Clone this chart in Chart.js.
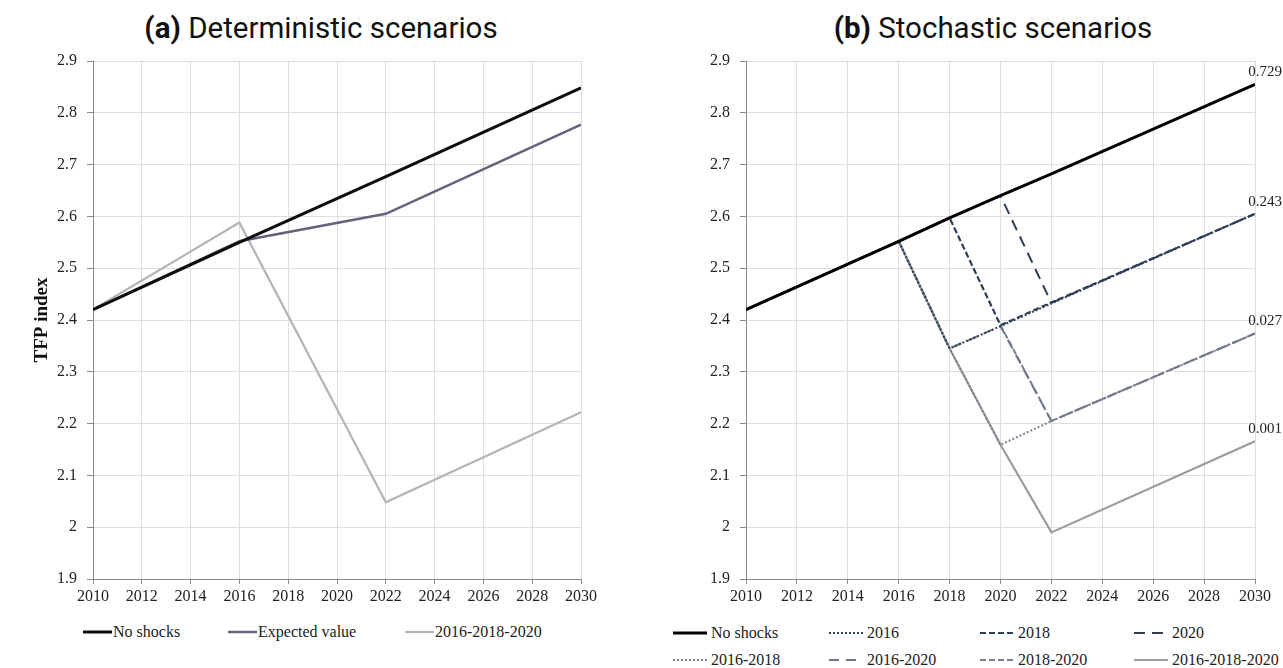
<!DOCTYPE html>
<html>
<head>
<meta charset="utf-8">
<script src="https://cdn.jsdelivr.net/npm/chart.js@4.4.1/dist/chart.umd.min.js"></script>
<style>
    body { margin: 0; width: 1283px; height: 668px; background: #fff; position: relative; overflow: hidden; }
    canvas { position: absolute; top: 0; }
    .titulo { position: absolute; top: 11px; line-height: 34px; font-family: Roboto, sans-serif; font-size: 29.5px; color: #111; white-space: nowrap; transform: translateX(-50%); }
    .titulo b { font-weight: 700; }
    .leg { position: absolute; display: flex; align-items: center; font-family: "Liberation Serif", serif; font-size: 16px; color: #222; white-space: nowrap; transform: translateY(-50%); }
    .leg svg { display: block; }
</style>
</head>
<body>
<div class="titulo" style="left:321px"><b>(a)</b> Deterministic scenarios</div>
<div class="titulo" style="left:993px"><b>(b)</b> Stochastic scenarios</div>
<canvas id="graficoA" width="640" height="612" style="left:0"></canvas>
<canvas id="graficoB" width="643" height="612" style="left:640px"></canvas>
<div id="legendaA"></div>
<div id="legendaB"></div>
<script>
// (a) cenários determinísticos
const anosA = [2010, 2016, 2022, 2030];
const semChoquesA = [2.42, 2.55, 2.677, 2.848];
const valorEsperadoA = [2.42, 2.552, 2.605, 2.777];
const choques161820A = [2.42, 2.588, 2.048, 2.222];

// (b) cenários estocásticos
const anosB = [2010, 2016, 2018, 2020, 2022, 2030];
const semChoquesB = [2.42, 2.552, 2.597, 2.640, 2.682, 2.855];
const choque2016 = [2.42, 2.552, 2.345, 2.388, 2.432, 2.605];
const choque2018 = [2.42, 2.552, 2.597, 2.390, 2.434, 2.605];
const choque2020 = [2.42, 2.552, 2.597, 2.640, 2.433, 2.605];
const choque2016_2018 = [2.42, 2.552, 2.345, 2.159, 2.205, 2.374];
const choque2016_2020 = [2.42, 2.552, 2.345, 2.388, 2.205, 2.374];
const choque2018_2020 = [2.42, 2.552, 2.597, 2.390, 2.205, 2.374];
const choque2016_2018_2020 = [2.42, 2.552, 2.345, 2.159, 1.990, 2.166];

// probabilidades escritas no fim das linhas
const probabilidades = ['0.729', '0.243', '0.027', '0.001'];
const seriesComProb = [0, 1, 4, 7];

const eixoX = { min: 2010, max: 2030, passo: 2 };
const eixoY = { min: 1.9, max: 2.9, passo: 0.1 };

const seriesA = [
    { label: 'No shocks', dados: semChoquesA, cor: '#0d0d0d', largura: 3, traco: [] },
    { label: 'Expected value', dados: valorEsperadoA, cor: '#63637c', largura: 2.5, traco: [] },
    { label: '2016-2018-2020', dados: choques161820A, cor: '#b4b4ba', largura: 2.2, traco: [] }
];

const seriesB = [
    { label: 'No shocks', dados: semChoquesB, cor: '#000000', largura: 3, traco: [] },
    { label: '2016', dados: choque2016, cor: '#2f3d57', largura: 2, traco: [2, 2] },
    { label: '2018', dados: choque2018, cor: '#2f3d57', largura: 2, traco: [6, 3] },
    { label: '2020', dados: choque2020, cor: '#2f3d57', largura: 2, traco: [11, 7] },
    { label: '2016-2018', dados: choque2016_2018, cor: '#7b8190', largura: 2, traco: [2, 2] },
    { label: '2016-2020', dados: choque2016_2020, cor: '#6f7686', largura: 2, traco: [10, 7] },
    { label: '2018-2020', dados: choque2018_2020, cor: '#7b8190', largura: 2, traco: [6, 3] },
    { label: '2016-2018-2020', dados: choque2016_2018_2020, cor: '#9c9c9c', largura: 2.2, traco: [] }
];

const fonteEixo = { family: 'Liberation Serif', size: 16 };

const rotulosFinais = {
    id: 'rotulosFinais',
    afterDatasetsDraw(chart, args, opts) {
        if (!opts.textos) return;
        const ctx = chart.ctx;
        ctx.save();
        ctx.font = '15px "Liberation Serif"';
        ctx.fillStyle = '#222';
        ctx.textAlign = 'center';
        ctx.textBaseline = 'middle';
        opts.indices.forEach((idx, i) => {
            const pontos = chart.getDatasetMeta(idx).data;
            const p = pontos[pontos.length - 1];
            ctx.fillText(opts.textos[i], p.x + 10, p.y - 12);
        });
        ctx.restore();
    }
};

function criarGrafico(id, anos, series, padding, larguraY, tituloY, plugins, opcoesPlugin) {
    const ctx = document.getElementById(id).getContext('2d');
    return new Chart(ctx, {
        type: 'line',
        data: {
            datasets: series.map(s => ({
                label: s.label,
                data: anos.map((ano, i) => ({ x: ano, y: s.dados[i] })),
                borderColor: s.cor,
                backgroundColor: s.cor,
                borderWidth: s.largura,
                borderDash: s.traco,
                pointRadius: 0,
                tension: 0,
                fill: false
            }))
        },
        options: {
            responsive: false,
            animation: false,
            devicePixelRatio: 1,
            layout: { padding: padding },
            plugins: {
                legend: { display: false },
                tooltip: { enabled: false },
                rotulosFinais: opcoesPlugin || {}
            },
            scales: {
                x: {
                    type: 'linear',
                    min: eixoX.min,
                    max: eixoX.max,
                    grid: { color: '#dedede', tickColor: '#8a8a8a', tickLength: 5 },
                    border: { color: '#8a8a8a', width: 1 },
                    ticks: {
                        stepSize: eixoX.passo, padding: 3, color: '#222', font: fonteEixo,
                        maxRotation: 0, autoSkip: false,
                        callback: v => String(v)
                    },
                    afterFit: s => { s.height = 33; }
                },
                y: {
                    min: eixoY.min,
                    max: eixoY.max,
                    grid: { color: '#dedede', tickColor: '#8a8a8a', tickLength: 6 },
                    border: { color: '#8a8a8a', width: 1 },
                    ticks: {
                        stepSize: eixoY.passo, padding: 10, color: '#222', font: fonteEixo,
                        callback: v => String(Math.round(v * 10) / 10)
                    },
                    title: {
                        display: !!tituloY,
                        text: tituloY,
                        color: '#111',
                        font: { family: 'Liberation Serif', size: 19, weight: 'bold' },
                        padding: { top: 11, bottom: 0 }
                    },
                    afterFit: s => { s.width = larguraY; }
                }
            }
        },
        plugins: plugins
    });
}

function montarLegenda(idDiv, series, colunas, linhas, larguraAmostra, espaco) {
    const div = document.getElementById(idDiv);
    series.forEach((s, i) => {
        const col = i % colunas.length;
        const lin = Math.floor(i / colunas.length);
        const traco = s.traco.length ? s.traco.join(' ') : 'none';
        const item = document.createElement('div');
        item.className = 'leg';
        item.style.left = colunas[col] + 'px';
        item.style.top = linhas[lin] + 'px';
        item.innerHTML = `<svg width="${larguraAmostra}" height="10"><line x1="0" y1="5" x2="${larguraAmostra}" y2="5" stroke="${s.cor}" stroke-width="${s.largura}" stroke-dasharray="${traco}"/></svg><span style="margin-left:${espaco}px">${s.label}</span>`;
        div.appendChild(item);
    });
}

criarGrafico('graficoA', anosA, seriesA, { left: 20, right: 59, top: 61, bottom: 0 }, 73, 'TFP index', []);
criarGrafico('graficoB', anosB, seriesB, { left: 20, right: 28, top: 61, bottom: 0 }, 86, '', [rotulosFinais],
    { textos: probabilidades, indices: seriesComProb });

montarLegenda('legendaA', seriesA, [83, 228, 405], [632], 29, 1);
montarLegenda('legendaB', seriesB, [673, 829, 980, 1134], [633, 660], 34, 4);
</script>
</body>
</html>
